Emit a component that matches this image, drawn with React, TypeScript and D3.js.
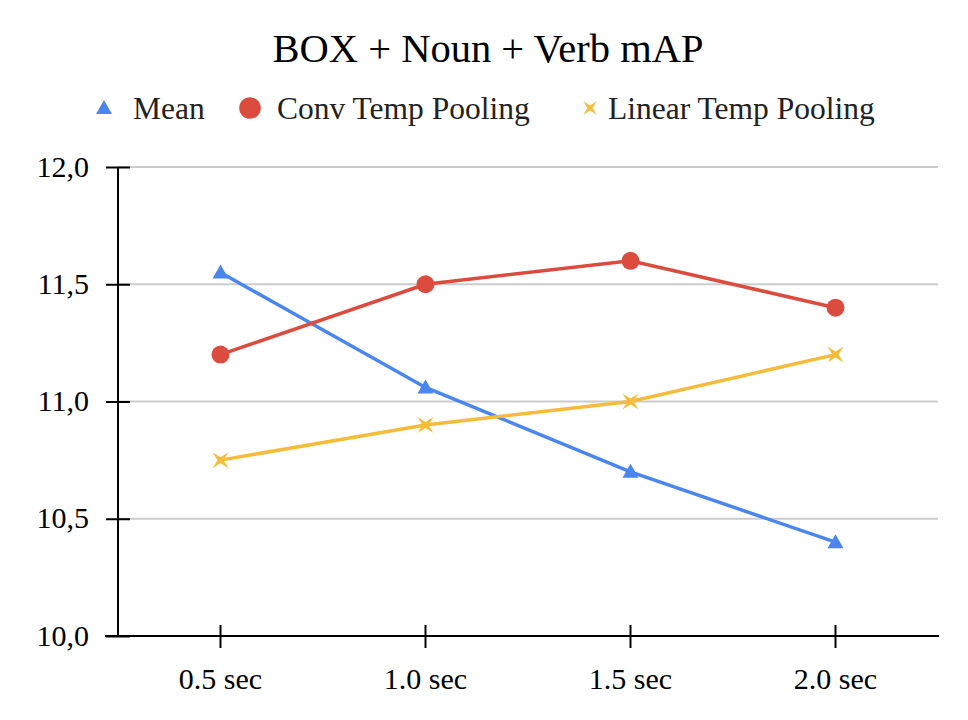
import { useEffect, useRef } from "react";
import * as d3 from "d3";

const categories = ["0.5 sec", "1.0 sec", "1.5 sec", "2.0 sec"];
const meanValues = [11.55, 11.06, 10.7, 10.4];
const convValues = [11.2, 11.5, 11.6, 11.4];
const linearValues = [10.75, 10.9, 11.0, 11.2];
const yTicks = [10.0, 10.5, 11.0, 11.5, 12.0];

type Series = { name: string; values: number[]; color: string; marker: "triangle" | "circle" | "cross" };

const series: Series[] = [
  { name: "Mean", values: meanValues, color: "#4a86ee", marker: "triangle" },
  { name: "Conv Temp Pooling", values: convValues, color: "#db4c3f", marker: "circle" },
  { name: "Linear Temp Pooling", values: linearValues, color: "#f4bc3a", marker: "cross" },
];

const W = 968;
const H = 720;
const FONT = "'Liberation Serif', 'Times New Roman', serif";

function drawMarker(
  g: d3.Selection<SVGGElement, unknown, null, undefined>,
  type: Series["marker"],
  x: number,
  y: number,
  color: string,
  scale = 1
) {
  if (type === "circle") {
    g.append("circle").attr("cx", x).attr("cy", y).attr("r", 9 * scale).attr("fill", color);
  } else if (type === "triangle") {
    const s = 8 * scale;
    g.append("path")
      .attr("d", `M${x},${y - s}L${x + s},${y + s * 0.75}L${x - s},${y + s * 0.75}Z`)
      .attr("fill", color);
  } else {
    const s = 8 * scale;
    const w = 3 * scale;
    // star-like x
    g.append("path")
      .attr(
        "d",
        `M${x - s},${y - s}L${x},${y - w}L${x + s},${y - s}L${x + w},${y}L${x + s},${y + s}L${x},${y + w}L${x - s},${y + s}L${x - w},${y}Z`
      )
      .attr("fill", color);
  }
}

export default function App() {
  const svgRef = useRef<SVGSVGElement | null>(null);

  useEffect(() => {
    if (!svgRef.current) return;
    const svg = d3.select(svgRef.current);
    svg.selectAll("*").remove();

    const margin = { top: 167, right: 30, bottom: 84, left: 118 };
    const width = W - margin.left - margin.right;
    const height = H - margin.top - margin.bottom;

    const x = d3.scaleBand().domain(categories).range([0, width]).padding(0);
    const y = d3.scaleLinear().domain([10, 12]).range([height, 0]);

    // Title
    svg
      .append("text")
      .attr("x", 488)
      .attr("y", 62)
      .attr("text-anchor", "middle")
      .style("font-family", FONT)
      .style("font-size", "40.5px")
      .attr("fill", "#000")
      .text("BOX + Noun + Verb mAP");

    // Legend
    const legendItems = [
      { s: series[0], mx: 104, tx: 133 },
      { s: series[1], mx: 250, tx: 277 },
      { s: series[2], mx: 590, tx: 608 },
    ];
    const lg = svg.append("g");
    legendItems.forEach(({ s, mx, tx }) => {
      drawMarker(lg, s.marker, mx, 108, s.color, s.marker === "circle" ? 1.2 : s.marker === "cross" ? 0.85 : 1);
      lg.append("text")
        .attr("x", tx)
        .attr("y", 119)
        .style("font-family", FONT)
        .style("font-size", "31.5px")
        .attr("fill", "#222")
        .text(s.name);
    });

    const g = svg.append("g").attr("transform", `translate(${margin.left},${margin.top})`);

    // Gridlines
    g.selectAll("line.grid")
      .data(yTicks)
      .join("line")
      .attr("class", "grid")
      .attr("x1", 0)
      .attr("x2", width)
      .attr("y1", (d) => y(d))
      .attr("y2", (d) => y(d))
      .attr("stroke", "#cccccc")
      .attr("stroke-width", 2);

    // Y axis
    const yAxis = d3
      .axisLeft(y)
      .tickValues(yTicks)
      .tickSize(12)
      .tickPadding(16)
      .tickFormat((d) => (d as number).toFixed(1).replace(".", ","));
    const yg = g.append("g").call(yAxis);
    yg.select(".domain").remove();
    yg.selectAll(".tick line").attr("x2", 12).attr("x1", -12).attr("stroke", "#000").attr("stroke-width", 2);
    yg.selectAll(".tick text")
      .style("font-family", FONT)
      .style("font-size", "30px")
      .attr("fill", "#000")
      .attr("dy", "0.3em")
      .attr("x", -29);
    g.append("line")
      .attr("x1", 0)
      .attr("x2", 0)
      .attr("y1", 0)
      .attr("y2", height)
      .attr("stroke", "#000")
      .attr("stroke-width", 2);

    // X axis
    const xAxis = d3.axisBottom(x).tickSize(12).tickPadding(20);
    const xg = g.append("g").attr("transform", `translate(0,${height})`).call(xAxis);
    xg.select(".domain").remove();
    xg.selectAll(".tick line").attr("y1", -11).attr("y2", 12).attr("stroke", "#000").attr("stroke-width", 2);
    xg.selectAll(".tick text")
      .style("font-family", FONT)
      .style("font-size", "30px")
      .attr("fill", "#000");
    g.append("line")
      .attr("x1", -13)
      .attr("x2", width + 1)
      .attr("y1", height)
      .attr("y2", height)
      .attr("stroke", "#000")
      .attr("stroke-width", 2);

    // Lines and markers
    const cx = (c: string) => (x(c) || 0) + x.bandwidth() / 2;
    series.forEach((s) => {
      const line = d3
        .line<number>()
        .x((_, i) => cx(categories[i]))
        .y((d) => y(d));
      g.append("path")
        .datum(s.values)
        .attr("d", line)
        .attr("fill", "none")
        .attr("stroke", s.color)
        .attr("stroke-width", 3.5);
    });
    series.forEach((s) => {
      const mg = g.append("g");
      s.values.forEach((v, i) => drawMarker(mg, s.marker, cx(categories[i]), y(v), s.color));
    });
  }, []);

  return <svg ref={svgRef} width={W} height={H} style={{ display: "block", margin: "-8px", background: "#fff" }} />;
}
